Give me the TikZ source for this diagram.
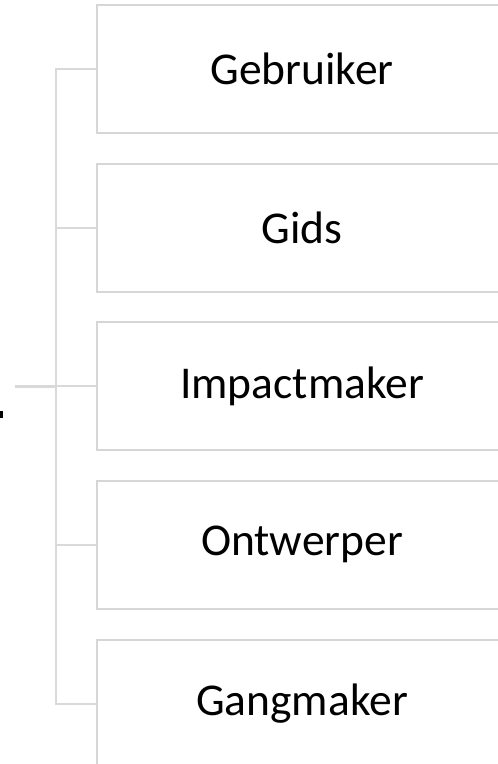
\documentclass[tikz,border=0pt]{standalone}
\usepackage{fontspec}
\setmainfont{Carlito}
\definecolor{linegray}{RGB}{217,217,217}
\definecolor{boxgray}{RGB}{214,214,214}
\tikzset{
  rolebox/.style={draw=boxgray, line width=2pt, fill=white, minimum width=410pt, minimum height=128pt, inner sep=0pt, anchor=center, font=\fontsize{45.5}{50}\selectfont, text=black},
  conn/.style={draw=linegray, line width=2pt},
  rootconn/.style={draw=linegray, line width=3pt}
}
\begin{document}
\begin{tikzpicture}[x=1pt,y=-1pt]
\useasboundingbox (0,0) rectangle (498,764);
\clip (0,0) rectangle (498,764);
\node[rolebox] (b1) at (302,69) {Gebruiker};
\node[rolebox] (b2) at (302,227.5) {Gids};
\node[rolebox] (b3) at (302,386) {Impactmaker};
\node[rolebox] (b4) at (302,544.5) {Ontwerper};
\node[rolebox] (b5) at (302,704) {Gangmaker};
\coordinate (bus3) at (56,386);
\coordinate (root) at (15,386);
\draw[conn] (b1.west) -| (56,0 |- b5.west) -- (b5.west);
\draw[conn] (56,0 |- b2.west) -- (b2.west);
\draw[conn] (bus3) -- (b3.west);
\draw[conn] (56,0 |- b4.west) -- (b4.west);
\draw[rootconn] (root) -- (bus3);
\fill[black] (0,411) rectangle (3,418);
\end{tikzpicture}
\end{document}
